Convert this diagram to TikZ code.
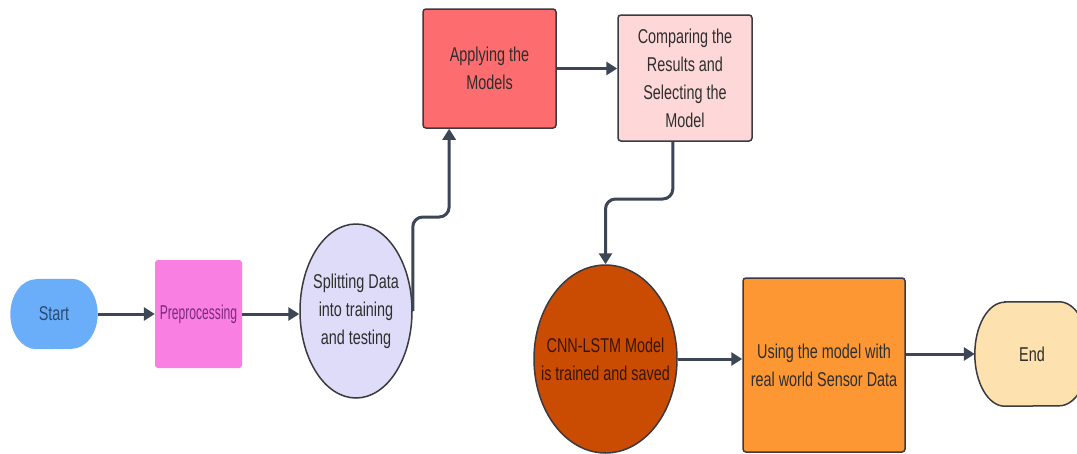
\documentclass[tikz,border=0pt]{standalone}
\usepackage{fontspec}
\usepackage{graphicx}
\setmainfont{Liberation Sans}[FakeStretch=0.72]
\usetikzlibrary{arrows.meta,calc,shapes.geometric,backgrounds}
\definecolor{cstart}{HTML}{6AAEFA}
\definecolor{cstarttxt}{HTML}{2A4A70}
\definecolor{cprep}{HTML}{F97FE2}
\definecolor{cpreptxt}{HTML}{7B2A80}
\definecolor{csplit}{HTML}{DEDCF8}
\definecolor{capply}{HTML}{FD6C6E}
\definecolor{ccomp}{HTML}{FED8D8}
\definecolor{ccnn}{HTML}{C94C02}
\definecolor{ccnntxt}{HTML}{3B1400}
\definecolor{cusing}{HTML}{FD9734}
\definecolor{cend}{HTML}{FDE1AE}
\definecolor{cborder}{HTML}{3A3A40}
\definecolor{carrow}{HTML}{3D4654}
\definecolor{ctext}{HTML}{2E2E2E}
\tikzset{
  lbl/.style={inner sep=0pt, align=center, text=ctext, font=\fontsize{20}{28}\selectfont},
  boxnode/.style={lbl, rectangle, rounded corners=3pt, draw=cborder, line width=1.5pt},
  ellnode/.style={lbl, ellipse, inner xsep=-40pt, inner ysep=-20pt, draw=cborder, line width=1.5pt},
  arr/.style={draw=carrow, line width=3pt, rounded corners=10pt, -{Triangle[length=11pt,width=13pt]}},
}
\begin{document}
\begin{tikzpicture}[x=1pt,y=1pt]
\clip (0,0) rectangle (1077,-453);
% nodes
\node[lbl, text=cstarttxt, minimum width=87pt, minimum height=70pt] (start) at (54,-314) {Start};
\node[lbl, rectangle, rounded corners=3pt, fill=cprep, text=cpreptxt, minimum width=87pt, minimum height=108pt] (prep) at (198.5,-314) {\scalebox{0.84}[1]{Preprocessing}};
\node[ellnode, fill=csplit, minimum width=112pt, minimum height=174pt] (split) at (356,-311) {Splitting Data\\into training\\and testing};
\node[boxnode, fill=capply, minimum width=133pt, minimum height=119pt] (apply) at (489.5,-68.5) {Applying the\\Models};
\node[boxnode, fill=ccomp, minimum width=134pt, minimum height=126pt] (comp) at (685,-78) {Comparing the\\Results and\\Selecting the\\Model};
\node[ellnode, fill=ccnn, text=ccnntxt, minimum width=143pt, minimum height=188pt] (cnn) at (605.5,-359) {CNN-LSTM Model\\is trained and saved};
\node[boxnode, fill=cusing, minimum width=162pt, minimum height=174pt] (using) at (824,-365) {Using the model with\\real world Sensor Data};
\node[lbl, minimum width=114pt, minimum height=104pt] (end) at (1032,-354) {End};
% stadium backgrounds
\begin{pgfonlayer}{background}
\fill[white] (0,0) rectangle (1077,-453);
\fill[cstart] ($(start.north west)+(26pt,0pt)$) -- ($(start.north east)+(-26pt,0pt)$)
  arc[start angle=90,end angle=-90,x radius=26pt,y radius=35pt]
  -- ($(start.south west)+(26pt,0pt)$)
  arc[start angle=270,end angle=90,x radius=26pt,y radius=35pt] -- cycle;
\filldraw[fill=cend, draw=cborder, line width=1.5pt] ($(end.north west)+(30pt,0pt)$) -- ($(end.north east)+(-30pt,0pt)$)
  arc[start angle=90,end angle=-90,x radius=30pt,y radius=52pt]
  -- ($(end.south west)+(30pt,0pt)$)
  arc[start angle=270,end angle=90,x radius=30pt,y radius=52pt] -- cycle;
\end{pgfonlayer}
% helper coordinates
\coordinate (b1) at (0,-217);
\coordinate (ain) at ($(apply.south west)!0.2!(apply.south east)$);
\coordinate (b2) at (0,-199);
\coordinate (cout) at ($(comp.south west)!0.41!(comp.south east)$);
% connectors
\draw[arr] (start.east) -- (prep.west);
\draw[arr] (prep.east) -- (prep.east -| split.west);
\draw[arr] (split.east) -- (split.east |- b1) -- (ain |- b1) -- (ain);
\draw[arr] (apply.east) -- (apply.east -| comp.west);
\draw[arr] (cout) -- (cout |- b2) -- (cnn.north |- b2) -- (cnn.north);
\draw[arr] (cnn.east) -- (cnn.east -| using.west);
\draw[arr] (end.west -| using.east) -- (end.west);
\end{tikzpicture}
\end{document}
